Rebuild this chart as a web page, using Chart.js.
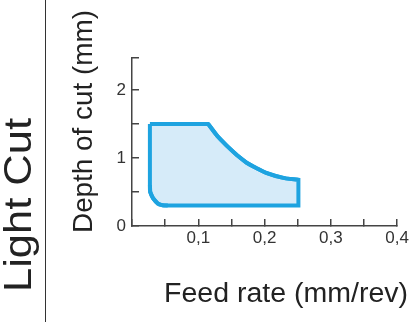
<!DOCTYPE html>
<html>
<head>
<meta charset="utf-8">
<script src="https://cdn.jsdelivr.net/npm/chart.js@4"></script>
<style>
  html, body { margin: 0; padding: 0; background: #fff; }
</style>
</head>
<body>
<canvas id="chart" width="418" height="322"></canvas>
<script>
// Outline of the light cut range, traced clockwise from the top-left corner
const feedRate   = [0.027, 0.115, 0.129, 0.144, 0.1585, 0.173, 0.188, 0.2025, 0.217, 0.232, 0.251, 0.251, 0.054, 0.046, 0.039, 0.0316, 0.0275, 0.027, 0.027];
const depthOfCut = [1.5,   1.5,   1.32,  1.17,  1.04,   0.93,  0.85,  0.78,   0.735, 0.70,  0.68,  0.3,   0.3,   0.305, 0.33,  0.41,   0.5,    0.6,   1.5];
// curved edges (point index ranges) that get a smooth line on top
const curvedEdges = [[1, 10], [12, 17]];

const xTickLabels = ['0,1', '0,2', '0,3', '0,4'];
const yTickLabels = ['0', '1', '2'];

const FONT = '"Liberation Sans", Arial, sans-serif';
const LINE = '#1ea3e0';

// draws a title stretched to the length it has in the picture
function drawTitle(ctx, text, x, y, angle, size, length) {
    ctx.save();
    ctx.translate(x, y);
    ctx.rotate(angle);
    ctx.font = size + 'px ' + FONT;
    const w = ctx.measureText(text).width;
    ctx.scale(length / w, 1);
    ctx.textAlign = 'center';
    ctx.textBaseline = 'alphabetic';
    ctx.fillStyle = '#222';
    ctx.fillText(text, 0, 0);
    ctx.restore();
}

const titlesPlugin = {
    id: 'titles',
    afterDraw(chart) {
        const ctx = chart.ctx;
        // separator line
        ctx.save();
        ctx.strokeStyle = '#333';
        ctx.lineWidth = 1;
        ctx.beginPath();
        ctx.moveTo(45.5, 0);
        ctx.lineTo(45.5, 322);
        ctx.stroke();
        ctx.restore();

        drawTitle(ctx, 'Light Cut', 31, 205, -Math.PI / 2, 38, 174);
        drawTitle(ctx, 'Depth of cut (mm)', 92, 121.5, -Math.PI / 2, 28, 223);
        drawTitle(ctx, 'Feed rate (mm/rev)', 286, 302, 0, 27, 244);
    }
};

const outline = feedRate.map((f, i) => ({ x: f, y: depthOfCut[i] }));

const smoothSets = curvedEdges.map(([a, b]) => ({
    data: outline.slice(a, b + 1),
    showLine: true,
    fill: false,
    borderColor: LINE,
    borderWidth: 4,
    pointRadius: 0,
    tension: 0.4,
    order: 0
}));

new Chart(document.getElementById('chart'), {
    type: 'scatter',
    data: {
        datasets: [{
            data: outline,
            showLine: true,
            fill: 'shape',
            borderColor: LINE,
            backgroundColor: '#d6ebf9',
            borderWidth: 4,
            borderJoinStyle: 'miter',
            pointRadius: 0,
            tension: 0,
            order: 1
        }, ...smoothSets]
    },
    options: {
        responsive: false,
        animation: false,
        devicePixelRatio: 1,
        layout: {
            padding: { left: 112, top: 58, right: 14, bottom: 56 }
        },
        plugins: {
            legend: { display: false },
            tooltip: { enabled: false }
        },
        scales: {
            x: {
                type: 'linear',
                min: 0,
                max: 0.4,
                afterFit: s => { s.height = 40; },
                border: { display: true, color: '#444', width: 1.5 },
                grid: { drawOnChartArea: false, color: '#444', lineWidth: 1.5, tickLength: -7 },
                ticks: {
                    stepSize: 0.05,
                    autoSkip: false,
                    maxRotation: 0,
                    padding: 9,
                    color: '#333',
                    font: { family: FONT, size: 17 },
                    callback: function(value) {
                        const v = Math.round(value * 100);
                        return (v > 0 && v % 10 === 0) ? xTickLabels[v / 10 - 1] : '';
                    }
                }
            },
            y: {
                type: 'linear',
                min: 0,
                max: 2.47,
                afterFit: s => { s.width = 20; },
                border: { display: true, color: '#444', width: 1.5 },
                grid: { drawOnChartArea: false, color: '#444', lineWidth: 1.5, tickLength: -7 },
                ticks: {
                    stepSize: 0.5,
                    autoSkip: false,
                    padding: 13,
                    color: '#333',
                    font: { family: FONT, size: 17 },
                    callback: function(value) {
                        const v = Math.round(value * 10);
                        return v % 10 === 0 ? yTickLabels[v / 10] : '';
                    }
                }
            }
        }
    },
    plugins: [titlesPlugin]
});
</script>
</body>
</html>
